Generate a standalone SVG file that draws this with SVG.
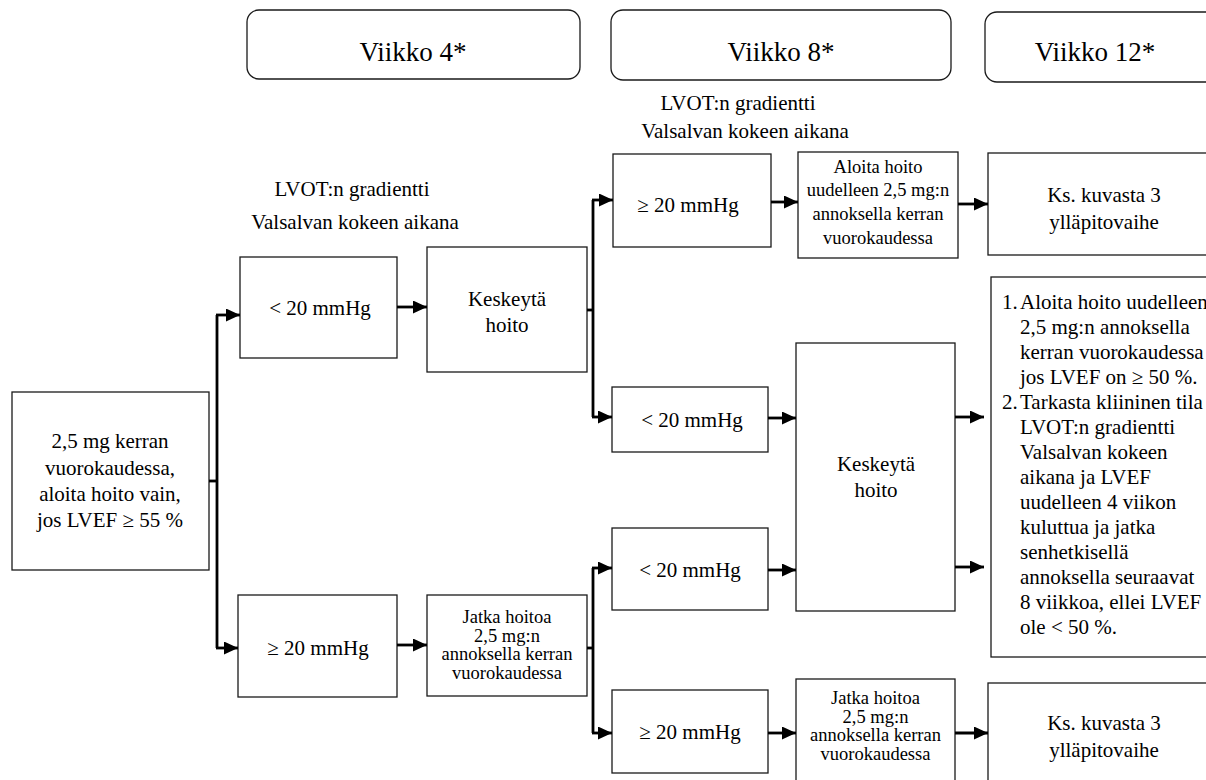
<svg xmlns="http://www.w3.org/2000/svg" width="1206" height="780" viewBox="0 0 1206 780">
  <style>
    .box { fill: #ffffff; stroke: #1a1a1a; stroke-width: 1.3; }
    .hdr { fill: #ffffff; stroke: #1a1a1a; stroke-width: 1.3; }
    .c { text-anchor: middle; }
    .f27 { font-size: 27px; }
    .f21 { font-size: 21px; }
    .f18 { font-size: 18.5px; }
    .f21b { font-size: 21px; }
    .wire { fill: none; stroke: #000000; stroke-width: 2.8; }
  </style>
  <defs>
    <marker id="arrow" markerUnits="userSpaceOnUse" markerWidth="14" markerHeight="13" refX="14" refY="6.5" orient="auto">
      <path d="M0,0 L14,6.5 L0,13 Z" fill="#000000"/>
    </marker>
  </defs>

  <rect width="1206" height="780" fill="#ffffff"/>

  <g font-family="'Liberation Serif', 'Times New Roman', Times, 'DejaVu Serif', serif" fill="#000000">
  <!-- week headers -->
  <g id="week4">
    <rect class="hdr" x="247" y="10" width="333" height="69" rx="12"/>
    <text class="c f27" x="413" y="61">Viikko 4*</text>
  </g>
  <g id="week8">
    <rect class="hdr" x="611" y="10" width="340" height="70" rx="12"/>
    <text class="c f27" x="781" y="61">Viikko 8*</text>
  </g>
  <g id="week12">
    <rect class="hdr" x="985" y="12" width="240" height="70" rx="12"/>
    <text class="c f27" x="1095" y="61">Viikko 12*</text>
  </g>

  <!-- gradient labels -->
  <g id="label-week4">
    <text class="c f21" x="352" y="196">LVOT:n gradientti</text>
    <text class="c f21" x="355" y="229">Valsalvan kokeen aikana</text>
  </g>
  <g id="label-week8">
    <text class="c f21" x="738" y="110">LVOT:n gradientti</text>
    <text class="c f21" x="745" y="138">Valsalvan kokeen aikana</text>
  </g>

  <!-- start -->
  <g id="start">
    <rect class="box" x="12" y="392" width="197" height="178"/>
    <text class="c f21" x="110" y="448">2,5 mg kerran</text>
    <text class="c f21" x="110" y="475">vuorokaudessa,</text>
    <text class="c f21" x="110" y="500.5">aloita hoito vain,</text>
    <text class="c f21" x="110" y="527">jos LVEF ≥ 55 %</text>
  </g>

  <!-- week 4 -->
  <g id="w4-low">
    <rect class="box" x="240" y="257" width="157" height="101"/>
    <text class="c f21" x="320" y="315">&lt; 20 mmHg</text>
  </g>
  <g id="w4-high">
    <rect class="box" x="238" y="595" width="159" height="102"/>
    <text class="c f21" x="318" y="655">≥ 20 mmHg</text>
  </g>
  <g id="w4-stop">
    <rect class="box" x="427" y="247" width="160" height="125"/>
    <text class="c f21" x="507" y="306">Keskeytä</text>
    <text class="c f21" x="507" y="332">hoito</text>
  </g>
  <g id="w4-continue">
    <rect class="box" x="427" y="595" width="160" height="101"/>
    <text class="c f18" x="507" y="623">Jatka hoitoa</text>
    <text class="c f18" x="507" y="641.5">2,5 mg:n</text>
    <text class="c f18" x="507" y="660">annoksella kerran</text>
    <text class="c f18" x="507" y="678.5">vuorokaudessa</text>
  </g>

  <!-- week 8 -->
  <g id="w8-a-high">
    <rect class="box" x="613" y="154" width="158" height="93"/>
    <text class="c f21" x="688" y="212">≥ 20 mmHg</text>
  </g>
  <g id="w8-a-low">
    <rect class="box" x="612" y="387" width="156" height="65"/>
    <text class="c f21" x="692" y="427">&lt; 20 mmHg</text>
  </g>
  <g id="w8-b-low">
    <rect class="box" x="612" y="528" width="156" height="82"/>
    <text class="c f21" x="690" y="577">&lt; 20 mmHg</text>
  </g>
  <g id="w8-b-high">
    <rect class="box" x="612" y="690" width="156" height="83"/>
    <text class="c f21" x="690" y="739">≥ 20 mmHg</text>
  </g>
  <g id="w8-restart">
    <rect class="box" x="798" y="152" width="160" height="106"/>
    <text class="c f18" x="878" y="173">Aloita hoito</text>
    <text class="c f18" x="878" y="196">uudelleen 2,5 mg:n</text>
    <text class="c f18" x="878" y="220">annoksella kerran</text>
    <text class="c f18" x="878" y="243.5">vuorokaudessa</text>
  </g>
  <g id="w8-stop">
    <rect class="box" x="796" y="343" width="159" height="268"/>
    <text class="c f21" x="876" y="471">Keskeytä</text>
    <text class="c f21" x="876" y="497">hoito</text>
  </g>
  <g id="w8-continue">
    <rect class="box" x="796" y="679" width="159" height="110"/>
    <text class="c f18" x="875.5" y="704">Jatka hoitoa</text>
    <text class="c f18" x="875.5" y="722.5">2,5 mg:n</text>
    <text class="c f18" x="875.5" y="741">annoksella kerran</text>
    <text class="c f18" x="875.5" y="759.5">vuorokaudessa</text>
  </g>

  <!-- week 12 -->
  <g id="w12-maint-top">
    <rect class="box" x="988" y="153" width="230" height="102"/>
    <text class="c f21" x="1104" y="202">Ks. kuvasta 3</text>
    <text class="c f21" x="1104" y="228.5">ylläpitovaihe</text>
  </g>
  <g id="w12-instructions">
    <rect class="box" x="991" y="277" width="230" height="380"/>
    <g class="f21b">
      <text x="1002" y="309">1.</text>
      <text x="1020" y="309">Aloita hoito uudelleen</text>
      <text x="1020" y="334">2,5 mg:n annoksella</text>
      <text x="1020" y="359">kerran vuorokaudessa</text>
      <text x="1020" y="384">jos LVEF on ≥ 50 %.</text>
      <text x="1002" y="409">2.</text>
      <text x="1020" y="409">Tarkasta kliininen tila</text>
      <text x="1020" y="434">LVOT:n gradientti</text>
      <text x="1020" y="459">Valsalvan kokeen</text>
      <text x="1020" y="484">aikana ja LVEF</text>
      <text x="1020" y="509">uudelleen 4 viikon</text>
      <text x="1020" y="534">kuluttua ja jatka</text>
      <text x="1020" y="559">senhetkisellä</text>
      <text x="1020" y="584">annoksella seuraavat</text>
      <text x="1020" y="609">8 viikkoa, ellei LVEF</text>
      <text x="1020" y="634">ole &lt; 50 %.</text>
    </g>
  </g>
  <g id="w12-maint-bottom">
    <rect class="box" x="988" y="683" width="230" height="110"/>
    <text class="c f21" x="1104" y="730">Ks. kuvasta 3</text>
    <text class="c f21" x="1104" y="757">ylläpitovaihe</text>
  </g>
  </g>

  <!-- connectors -->
  <g id="connectors" class="wire">
    <path d="M209,481 H217"/>
    <path d="M217,315 V648"/>
    <path d="M216,315 H240" marker-end="url(#arrow)"/>
    <path d="M216,648 H238" marker-end="url(#arrow)"/>

    <path d="M397,307 H427" marker-end="url(#arrow)"/>
    <path d="M397,645 H427" marker-end="url(#arrow)"/>

    <path d="M587,310 H593"/>
    <path d="M593,200 V417"/>
    <path d="M592,200 H613" marker-end="url(#arrow)"/>
    <path d="M592,417 H612" marker-end="url(#arrow)"/>

    <path d="M587,648 H593"/>
    <path d="M593,568 V733"/>
    <path d="M592,568 H612" marker-end="url(#arrow)"/>
    <path d="M592,733 H612" marker-end="url(#arrow)"/>

    <path d="M771,202 H798" marker-end="url(#arrow)"/>
    <path d="M958,204 H988" marker-end="url(#arrow)"/>

    <path d="M768,418 H796" marker-end="url(#arrow)"/>
    <path d="M768,570 H796" marker-end="url(#arrow)"/>

    <path d="M955,417 H984" marker-end="url(#arrow)"/>
    <path d="M955,567 H984" marker-end="url(#arrow)"/>

    <path d="M768,733 H796" marker-end="url(#arrow)"/>
    <path d="M955,733 H988" marker-end="url(#arrow)"/>
  </g>
</svg>
